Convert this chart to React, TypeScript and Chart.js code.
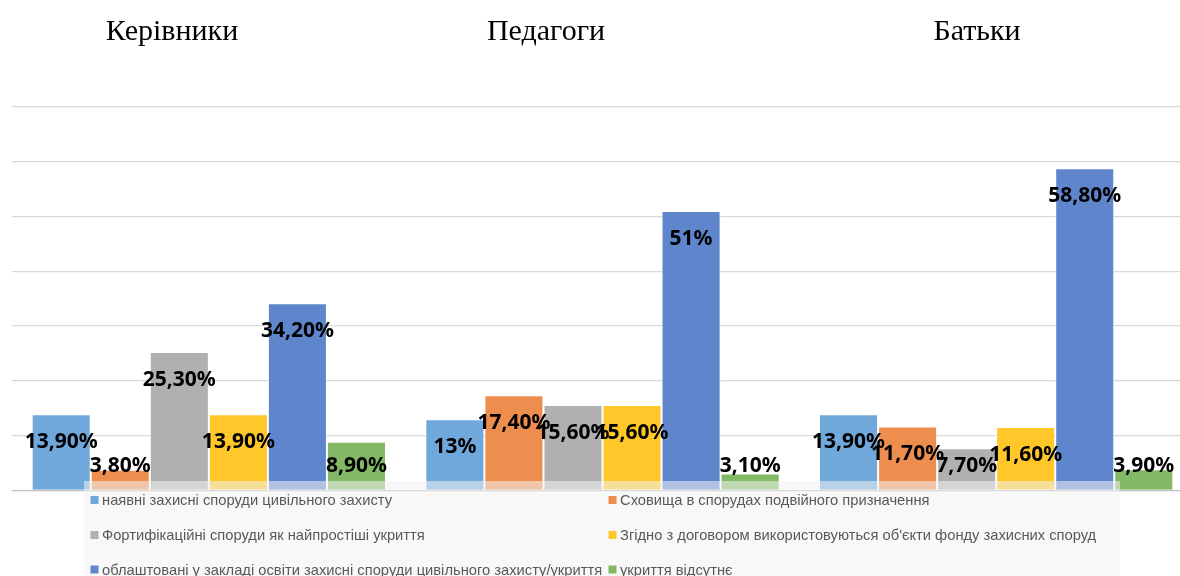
import React, { useEffect, useRef } from "react";
import { Chart, registerables } from "chart.js";

Chart.register(...registerables);

// ---- data ----
const categories = ["Керівники", "Педагоги", "Батьки"];

const seriesLabels = [
  "наявні захисні споруди цивільного захисту",
  "Сховища в спорудах подвійного призначення",
  "Фортифікаційні споруди як найпростіші укриття",
  "Згідно з договором використовуються об'єкти фонду захисних споруд",
  "облаштовані у закладі освіти захисні споруди цивільного захисту/укриття",
  "укриття відсутнє",
];

const existingShelters = [13.9, 13, 13.9];
const dualPurpose = [3.8, 17.4, 11.7];
const fortification = [25.3, 15.6, 7.7];
const byContract = [13.9, 15.6, 11.6];
const arrangedInSchool = [34.2, 51, 58.8];
const noShelter = [8.9, 3.1, 3.9];

const seriesValues = [existingShelters, dualPurpose, fortification, byContract, arrangedInSchool, noShelter];

const seriesColors = ["#70A8DB", "#EE8E4E", "#B0B0B0", "#FFC72A", "#5F86CC", "#83B864"];

const yTicks = [0, 10, 20, 30, 40, 50, 60, 70];

// ---- layout ----
const titleCenters = [172, 546, 977];
const legendFirstLabelWidth = 290; // condensed legend text width

export default function App() {
  const ref = useRef<HTMLCanvasElement | null>(null);

  useEffect(() => {
    if (!ref.current) return;
    const fmt = (v: number) =>
      (Number.isInteger(v) ? String(v) : v.toFixed(2).replace(".", ",")) + "%";

    const overlayPlugin = {
      id: "overlayLegendLabels",
      afterDatasetsDraw(chart: any) {
        const ctx = chart.ctx as CanvasRenderingContext2D;
        ctx.save();
        // legend box (semi-transparent, overlapping bars)
        ctx.fillStyle = "rgba(242,242,242,0.55)";
        ctx.fillRect(84, 481, 1036, 100);

        const colX = [90.5, 608.5];
        const rowY = [500, 535, 569.5];
        ctx.font = "15px 'Liberation Sans', sans-serif";
        ctx.textBaseline = "middle";
        ctx.textAlign = "left";
        const sx = legendFirstLabelWidth / ctx.measureText(chart.data.datasets[0].label).width;
        chart.data.datasets.forEach((ds: any, i: number) => {
          const x = colX[i % 2];
          const y = rowY[Math.floor(i / 2)];
          ctx.fillStyle = ds.backgroundColor;
          ctx.fillRect(x, y - 4, 8, 8);
          ctx.fillStyle = "#595959";
          ctx.save();
          ctx.translate(x + 11.5, y + 1);
          ctx.scale(sx, 1);
          ctx.fillText(ds.label, 0, 0);
          ctx.restore();
        });

        // data labels
        ctx.font = "bold 21px 'Noto Sans', sans-serif";
        ctx.fillStyle = "#000";
        ctx.textAlign = "center";
        chart.data.datasets.forEach((ds: any, i: number) => {
          const meta = chart.getDatasetMeta(i);
          meta.data.forEach((bar: any, j: number) => {
            const y = Math.min(bar.y + 28, bar.base - 24);
            ctx.fillText(fmt(ds.data[j]), bar.x, y);
          });
        });
        ctx.restore();
      },
    };

    const chart = new Chart(ref.current, {
      type: "bar",
      data: {
        labels: categories,
        datasets: seriesLabels.map((label, i) => ({
          label,
          data: seriesValues[i],
          backgroundColor: seriesColors[i],
          borderColor: "rgba(255,255,255,0.55)",
          borderWidth: 1,
          categoryPercentage: 0.9,
          barPercentage: 1,
        })),
      },
      options: {
        responsive: false,
        animation: false,
        devicePixelRatio: 1,
        layout: { padding: { top: 107, bottom: 85.5, left: 12, right: 7 } },
        plugins: {
          legend: { display: false },
          tooltip: { enabled: false },
          title: { display: false },
        },
        scales: {
          x: { display: false },
          y: {
            display: true,
            min: yTicks[0],
            max: yTicks[yTicks.length - 1],
            afterBuildTicks: (scale: any) => {
              scale.ticks = yTicks.map((v) => ({ value: v }));
            },
            afterFit: (scale: any) => {
              scale.width = 0;
            },
            ticks: { display: false },
            border: { display: false },
            grid: {
              drawTicks: false,
              lineWidth: 1.3,
              color: (c: any) => (c.tick && c.tick.value === 0 ? "#bfbfbf" : "#d9d9d9"),
            },
          },
        },
      },
      plugins: [overlayPlugin],
    });
    return () => chart.destroy();
  }, []);

  return (
    <div
      style={{
        position: "fixed",
        left: 0,
        top: 0,
        width: 1180,
        height: 576,
        overflow: "hidden",
        background: "#fff",
      }}
    >
      <canvas
        ref={ref}
        width={1200}
        height={576}
        style={{ position: "absolute", left: 0, top: 0, width: 1200, height: 576, display: "block" }}
      />
      {categories.map((c, i) => (
        <div
          key={c}
          style={{
            position: "absolute",
            left: titleCenters[i],
            top: 15,
            transform: "translateX(-50%)",
            fontFamily: "'Liberation Serif', 'Times New Roman', serif",
            fontSize: 30,
            lineHeight: "30px",
            color: "#000",
            whiteSpace: "nowrap",
          }}
        >
          {c}
        </div>
      ))}
    </div>
  );
}
